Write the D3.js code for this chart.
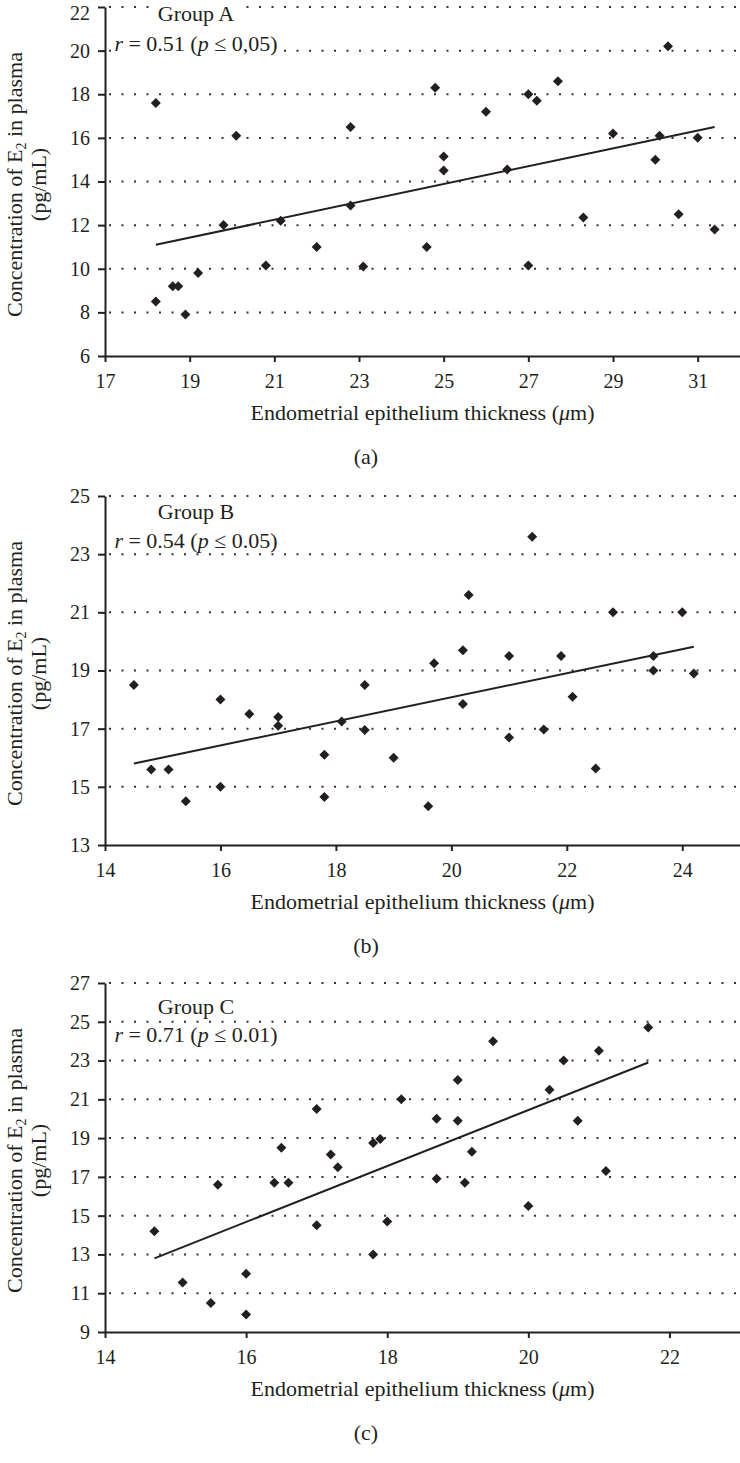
<!DOCTYPE html>
<html><head><meta charset="utf-8">
<script src="https://cdn.jsdelivr.net/npm/d3@7"></script>
<style>
body{margin:0;background:#fff}
svg{display:block}
text{font-family:"Liberation Serif","Times New Roman",serif;fill:#231f20}
</style>
</head><body>
<svg id="chart" width="740" height="1463"></svg>
<script>
// ---------- Data ----------
const groupA_x = [18.2, 20.1, 22.8, 19.8, 21.15, 22.8, 22.0, 23.1, 20.8, 19.2, 18.6, 18.73, 18.2, 18.9,
                  30.3, 27.7, 24.8, 27.0, 27.2, 26.0, 29.0, 30.1, 31.0, 25.0, 25.0, 26.5, 30.0, 28.3, 30.55, 31.4, 24.6, 27.0];
const groupA_y = [17.6, 16.1, 16.5, 12.0, 12.2, 12.9, 11.0, 10.1, 10.15, 9.8, 9.2, 9.2, 8.5, 7.9,
                  20.2, 18.6, 18.3, 18.0, 17.7, 17.2, 16.2, 16.1, 16.0, 15.15, 14.5, 14.55, 15.0, 12.35, 12.5, 11.8, 11.0, 10.15];
const fitA_x = [18.2, 31.4];
const fitA_y = [11.1, 16.5];

const groupB_x = [14.5, 16.0, 16.5, 17.0, 17.0, 18.1, 18.5, 18.5, 17.8, 17.8, 14.8, 15.1, 15.4, 16.0,
                  21.4, 20.3, 22.8, 24.0, 20.2, 21.0, 21.9, 23.5, 19.7, 23.5, 24.2, 20.2, 22.1, 19.0, 21.0, 21.6, 22.5, 19.6];
const groupB_y = [18.5, 18.0, 17.5, 17.4, 17.1, 17.25, 18.5, 16.95, 16.1, 14.65, 15.6, 15.6, 14.5, 15.0,
                  23.6, 21.6, 21.0, 21.0, 19.7, 19.5, 19.5, 19.5, 19.25, 19.0, 18.9, 17.85, 18.1, 16.0, 16.7, 16.97, 15.63, 14.33];
const fitB_x = [14.5, 24.2];
const fitB_y = [15.8, 19.82];

const groupC_x = [14.7, 15.1, 15.5, 16.0, 16.0, 15.6, 16.4, 16.6, 16.5, 17.0, 17.2, 17.3, 17.0,
                  17.8, 17.9, 18.2, 18.0, 17.8, 18.7, 19.0, 19.0, 19.2, 18.7, 19.1, 19.5, 20.0, 20.3, 20.5, 20.7, 21.0, 21.1, 21.7];
const groupC_y = [14.2, 11.55, 10.5, 12.0, 9.9, 16.6, 16.7, 16.7, 18.5, 20.5, 18.15, 17.5, 14.5,
                  18.75, 18.95, 21.0, 14.7, 13.0, 20.0, 22.0, 19.9, 18.3, 16.9, 16.7, 24.0, 15.5, 21.5, 23.0, 19.9, 23.5, 17.3, 24.7];
const fitC_x = [14.7, 21.7];
const fitC_y = [12.8, 22.9];

const xTicksA = [17, 19, 21, 23, 25, 27, 29, 31];
const yTicksA = [6, 8, 10, 12, 14, 16, 18, 20, 22];
const xTicksB = [14, 16, 18, 20, 22, 24];
const yTicksB = [13, 15, 17, 19, 21, 23, 25];
const xTicksC = [14, 16, 18, 20, 22];
const yTicksC = [9, 11, 13, 15, 17, 19, 21, 23, 25, 27];

const groupNames = ["Group A", "Group B", "Group C"];
const rValues = ["0.51", "0.54", "0.71"];
const pValues = ["0,05", "0.05", "0.01"];
const panelLetters = ["(a)", "(b)", "(c)"];

// ---------- Layout ----------
const ink = "#231f20";
const svg = d3.select("#chart");
const left = 105, right = 740, plotH = 349;
const labelSize = 22, tickSize = 20;
const panels = [
  {xs: groupA_x, ys: groupA_y, fx: fitA_x, fy: fitA_y, xd: [17, 32], yd: [6, 22], xt: xTicksA, yt: yTicksA,
   top: 7, gy: 14, ry: 44},
  {xs: groupB_x, ys: groupB_y, fx: fitB_x, fy: fitB_y, xd: [14, 25], yd: [13, 25], xt: xTicksB, yt: yTicksB,
   top: 496, gy: 22.5, ry: 51.5},
  {xs: groupC_x, ys: groupC_y, fx: fitC_x, fy: fitC_y, xd: [14, 23], yd: [9, 27], xt: xTicksC, yt: yTicksC,
   top: 983, gy: 31, ry: 59}
];

panels.forEach((p, i) => {
  const g = svg.append("g");
  const bottom = p.top + plotH;
  const x = d3.scaleLinear().domain(p.xd).range([left, right]);
  const y = d3.scaleLinear().domain(p.yd).range([bottom, p.top]);

  // dotted gridlines
  g.append("g").selectAll("line").data(p.yt.slice(1)).join("line")
    .attr("x1", left + 4).attr("x2", right)
    .attr("y1", d => y(d)).attr("y2", d => y(d))
    .attr("stroke", "#333").attr("stroke-width", 2)
    .attr("stroke-dasharray", "2,10.5");

  // annotation text with white background
  const ann = g.append("g");
  const t1 = ann.append("text").attr("x", 196).attr("y", p.top + p.gy)
    .attr("text-anchor", "middle").attr("font-size", labelSize).text(groupNames[i]);
  const t2 = ann.append("text").attr("x", 196).attr("y", p.top + p.ry)
    .attr("text-anchor", "middle").attr("font-size", labelSize);
  t2.append("tspan").attr("font-style", "italic").text("r");
  t2.append("tspan").text(" = " + rValues[i] + " (");
  t2.append("tspan").attr("font-style", "italic").text("p");
  t2.append("tspan").text(" \u2264 " + pValues[i] + ")");
  [t1, t2].forEach(t => {
    const b = t.node().getBBox();
    ann.insert("rect", "text").attr("x", b.x - 2).attr("y", b.y + 2)
      .attr("width", b.width + 4).attr("height", b.height - 4).attr("fill", "#fff");
  });

  // axes
  const ya = g.append("g").attr("transform", `translate(${left},0)`)
    .call(d3.axisLeft(y).tickValues(p.yt).tickSize(7).tickSizeOuter(0).tickPadding(8));
  const xa = g.append("g").attr("transform", `translate(0,${bottom})`)
    .call(d3.axisBottom(x).tickValues(p.xt).tickSize(6).tickSizeOuter(0).tickPadding(12));
  [ya, xa].forEach(a => {
    a.select(".domain").attr("stroke", ink).attr("stroke-width", 2);
    a.selectAll(".tick line").attr("stroke", ink).attr("stroke-width", 2);
    a.selectAll(".tick text").attr("font-size", tickSize).attr("fill", ink)
      .attr("font-family", '"Liberation Serif","Times New Roman",serif');
  });
  // keep the topmost y tick label of the first panel inside the picture
  ya.selectAll(".tick text").filter(d => d === p.yt[p.yt.length - 1] && i === 0).attr("dy", "0.6em");

  // trend line
  g.append("path").datum(d3.zip(p.fx, p.fy))
    .attr("d", d3.line().x(d => x(d[0])).y(d => y(d[1])))
    .attr("fill", "none").attr("stroke", ink).attr("stroke-width", 2);

  // diamonds
  const sym = d3.symbol().type(d3.symbolSquare).size(50);
  g.append("g").selectAll("path").data(d3.zip(p.xs, p.ys)).join("path")
    .attr("d", sym)
    .attr("transform", d => `translate(${x(d[0])},${y(d[1])}) rotate(45)`)
    .attr("fill", ink);

  // axis titles
  const xl = g.append("text").attr("x", (left + right) / 2).attr("y", bottom + 64)
    .attr("text-anchor", "middle").attr("font-size", labelSize);
  xl.append("tspan").text("Endometrial epithelium thickness (");
  xl.append("tspan").attr("font-style", "italic").text("\u03bc");
  xl.append("tspan").text("m)");

  const yc = (p.top + bottom) / 2 + 3;
  const yl = g.append("text").attr("transform", `translate(22,${yc}) rotate(-90)`)
    .attr("text-anchor", "middle").attr("font-size", labelSize);
  yl.append("tspan").text("Concentration of E");
  yl.append("tspan").attr("font-size", 14).attr("dy", 4).text("2");
  yl.append("tspan").attr("dy", -4).text(" in plasma");
  g.append("text").attr("transform", `translate(46,${yc}) rotate(-90)`)
    .attr("text-anchor", "middle").attr("font-size", labelSize).text("(pg/mL)");

  g.append("text").attr("x", 366).attr("y", bottom + 108)
    .attr("text-anchor", "middle").attr("font-size", labelSize).text(panelLetters[i]);
});
</script>
</body></html>
